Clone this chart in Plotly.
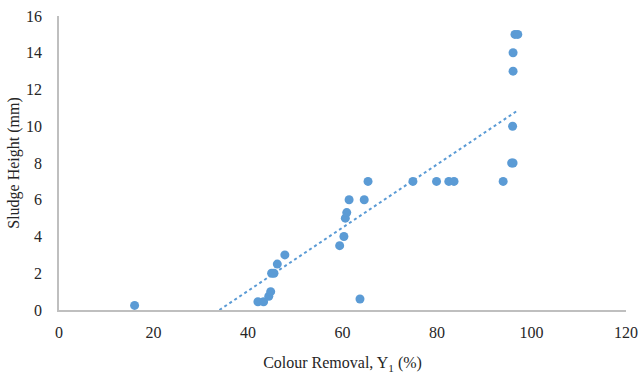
import numpy as np
import plotly.graph_objects as go

# Colour removal (%) vs sludge height (mm)
colour_removal = [16.0, 42.1, 43.3, 44.4, 44.8, 45.0, 45.5, 46.2, 47.8,
                  59.4, 60.3, 60.6, 60.9, 61.4, 63.7, 64.6, 65.4,
                  74.9, 79.9, 82.5, 83.6, 94.0,
                  95.8, 96.1, 96.0, 96.1, 96.1, 96.5, 97.1]
sludge_height = [0.25, 0.45, 0.45, 0.75, 1.0, 2.0, 2.0, 2.5, 3.0,
                 3.5, 4.0, 5.0, 5.3, 6.0, 0.6, 6.0, 7.0,
                 7.0, 7.0, 7.0, 7.0, 7.0,
                 8.0, 8.0, 10.0, 13.0, 14.0, 15.0, 15.0]

x_ticks = [0, 20, 40, 60, 80, 100, 120]
y_ticks = [0, 2, 4, 6, 8, 10, 12, 14, 16]

blue = "#5B9BD5"
axis_grey = "#BFBFBF"
text_col = "#262626"
font_family = "Liberation Serif"

# Linear trend line over the data range
slope, intercept = np.polyfit(colour_removal, sludge_height, 1)
trend_x = np.linspace(min(colour_removal), max(colour_removal), 200)
trend_y = slope * trend_x + intercept

fig = go.Figure()
fig.add_trace(go.Scatter(
    x=trend_x, y=trend_y, mode="lines",
    line=dict(color=blue, width=2, dash="dot"),
    hoverinfo="skip", showlegend=False,
))
fig.add_trace(go.Scatter(
    x=colour_removal, y=sludge_height, mode="markers",
    marker=dict(color=blue, size=9),
    showlegend=False,
))

fig.update_layout(
    width=639, height=376,
    margin=dict(l=59, r=13, t=16, b=66),
    plot_bgcolor="white", paper_bgcolor="white",
    font=dict(family=font_family, size=16, color=text_col),
)
fig.update_xaxes(
    range=[0, 120], tickvals=x_ticks, ticks="", showgrid=False,
    zeroline=False, showline=True, linecolor=axis_grey, linewidth=1.5,
    automargin=False,
    tickfont=dict(family=font_family, size=16, color=text_col),
    ticklabelstandoff=7,
    title=dict(text="Colour Removal, Y<sub>1</sub> (%)",
               font=dict(family=font_family, size=16, color=text_col),
               standoff=17),
)
fig.update_yaxes(
    range=[0, 16], tickvals=y_ticks, ticks="", showgrid=False,
    zeroline=False, showline=True, linecolor=axis_grey, linewidth=1.5,
    automargin=False,
    tickfont=dict(family=font_family, size=16, color=text_col),
    ticklabelstandoff=12,
    title=dict(text="Sludge Height (mm)",
               font=dict(family=font_family, size=16, color=text_col),
               standoff=2),
)

fig.write_html("out.html")
